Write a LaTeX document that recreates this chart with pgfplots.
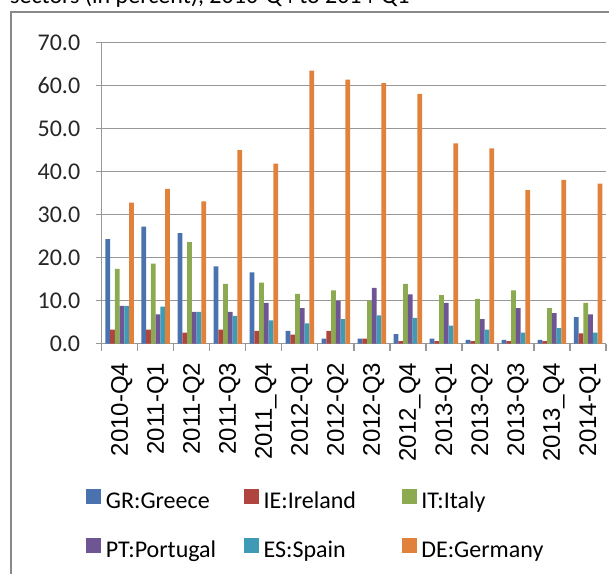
\documentclass[border=0pt]{standalone}
\usepackage{pgfplots}
\pgfplotsset{compat=1.18}
\usepackage{pgfplotstable}
\usepackage{fontspec}
\setmainfont{Carlito}
\newfontfamily\arial{Liberation Sans}
\definecolor{cGR}{HTML}{4A72AE}
\definecolor{cIE}{HTML}{B0443F}
\definecolor{cIT}{HTML}{8CAA50}
\definecolor{cPT}{HTML}{6E5594}
\definecolor{cES}{HTML}{3F9BB5}
\definecolor{cDE}{HTML}{E0823C}
\definecolor{gridgray}{HTML}{989898}
\pgfplotstableread{
x GR IE IT PT ES DE
0 24.3 3.3 17.4 8.8 8.8 32.8
1 27.2 3.3 18.6 6.8 8.6 36.0
2 25.7 2.6 23.6 7.4 7.4 33.1
3 18.0 3.3 13.9 7.4 6.5 45.0
4 16.6 3.0 14.2 9.5 5.4 41.9
5 3.0 2.1 11.6 8.3 4.7 63.5
6 1.2 3.0 12.4 10.0 5.7 61.4
7 1.2 1.2 9.9 13.0 6.6 60.6
8 2.2 0.6 13.9 11.5 6.0 58.1
9 1.2 0.6 11.3 9.5 4.2 46.6
10 0.9 0.6 10.4 5.7 3.3 45.4
11 0.9 0.6 12.4 8.3 2.6 35.7
12 0.9 0.6 8.3 7.1 3.6 38.1
13 6.2 2.4 9.5 6.8 2.6 37.2
}\datatable
\begin{document}
\begin{tikzpicture}
\node[anchor=base west, font=\fontsize{24}{28}\selectfont, inner sep=0pt] at (10pt,570pt) {sectors (in percent), 2010-Q4 to 2014-Q1};
\draw[gridgray!90!black, line width=2pt] (11pt,0pt) -- (11pt,561.7pt) -- (610pt,561.7pt);
\begin{axis}[
  at={(101.7pt,230.3pt)}, anchor=south west,
  scale only axis, width=504.3pt, height=301pt,
  xmin=-0.5, xmax=13.5, ymin=0, ymax=70,
  ybar=0pt, bar width=4.75pt,
  axis x line*=bottom, axis y line*=left,
  axis line style={gridgray, line width=1.3pt},
  ymajorgrids, grid style={gridgray, line width=1.3pt},
  ytick={0,10,...,70},
  yticklabel style={font=\fontsize{24}{28}\selectfont, text=black!85, xshift=-12pt},
  /pgf/number format/assume math mode=true,
  /pgf/number format/fixed, /pgf/number format/fixed zerofill, /pgf/number format/precision=1,
  tick align=outside, major tick length=6pt,
  tick style={gridgray, line width=1.3pt},
  xtick={0,...,13},
  xticklabels={2010-Q4,2011-Q1,2011-Q2,2011-Q3,2011\_Q4,2012-Q1,2012-Q2,2012-Q3,2012\_Q4,2013-Q1,2013-Q2,2013-Q3,2013\_Q4,2014-Q1},
  major x tick style={draw=none},
  xticklabel style={font=\arial\fontsize{24}{28}\selectfont, yshift=-13pt, xshift=2pt, rotate=90, anchor=east, inner sep=0pt},
  extra x ticks={-0.5,0.5,...,13.5},
  extra x tick labels={},
  extra x tick style={major x tick style={draw=gridgray, line width=1.3pt}, major tick length=7pt, grid=none},
  legend columns=3,
  legend style={draw=none, fill=none, at={(-0.0365,-0.475)}, anchor=north west,
    font=\fontsize{24}{28}\selectfont,
    nodes={inner sep=0pt, text height=17pt, text depth=5pt},
    column sep=4.4pt, row sep=24pt,
    /tikz/every even column/.append style={column sep=18.3pt}},
  legend image code/.code={\fill[#1, draw=none] (0pt,-1pt) rectangle (15pt,14pt);},
]
\addplot[fill=cGR, draw=none] table[x=x, y=GR] {\datatable};
\addplot[fill=cIE, draw=none] table[x=x, y=IE] {\datatable};
\addplot[fill=cIT, draw=none] table[x=x, y=IT] {\datatable};
\addplot[fill=cPT, draw=none] table[x=x, y=PT] {\datatable};
\addplot[fill=cES, draw=none] table[x=x, y=ES] {\datatable};
\addplot[fill=cDE, draw=none] table[x=x, y=DE] {\datatable};
\legend{\makebox[120pt][l]{GR:Greece},\makebox[120pt][l]{IE:Ireland},\makebox[120pt][l]{IT:Italy},\makebox[120pt][l]{PT:Portugal},\makebox[120pt][l]{ES:Spain},\makebox[120pt][l]{DE:Germany}}
\end{axis}
\pgfresetboundingbox
\useasboundingbox (0pt,0pt) rectangle (609pt,574pt);
\end{tikzpicture}
\end{document}
